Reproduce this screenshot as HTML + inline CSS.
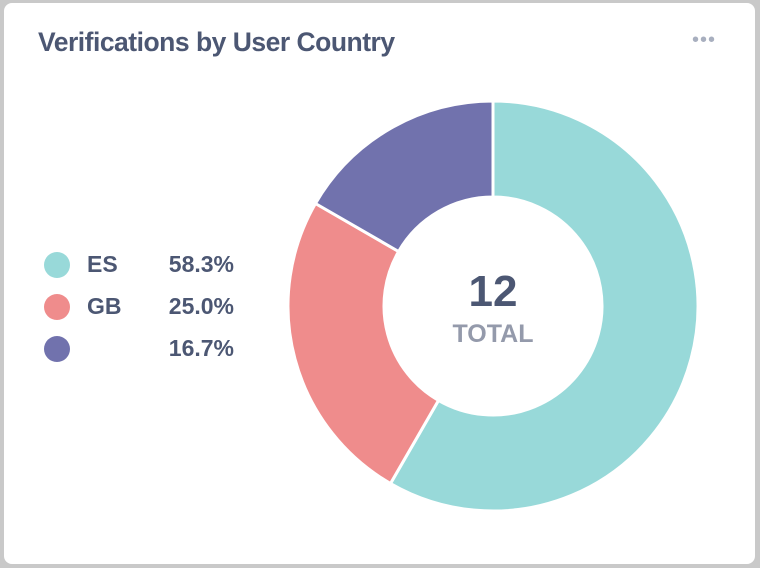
<!DOCTYPE html>
<html><head><style>
html,body{margin:0;padding:0;}
body{width:760px;height:568px;background:#c9c9c9;position:relative;overflow:hidden;font-family:"Liberation Sans",sans-serif;}
.card{position:absolute;left:4px;top:3px;width:751px;height:561px;background:#fff;border-radius:8px;}
.title{position:absolute;left:34px;top:24px;font-size:26.5px;font-weight:bold;color:#4c5773;letter-spacing:-0.5px;}
.dots{position:absolute;left:688px;top:26px;color:#a8afbf;font-size:20px;letter-spacing:1px;}
.leg{position:absolute;left:44px;height:30px;width:192px;font-size:23px;font-weight:bold;color:#4c5773;}
.leg .dot{position:absolute;left:0;top:2px;width:26px;height:26px;border-radius:50%;}
.leg .lab{position:absolute;left:43px;top:1px;}
.leg .val{position:absolute;right:2px;top:1px;}
</style></head><body>
<div class="card">
<div class="title">Verifications by User Country</div>
<div class="dots">•••</div>
</div>
<div id="legend"></div>
<svg id="chart" width="760" height="568" style="position:absolute;left:0;top:0"></svg>
<script>
const categories=["ES","GB",""];
const values=[7,3,2];
const colors=["#98d9d9","#ef8c8c","#7172ad"];
const total=values.reduce((a,b)=>a+b,0);
const ns="http://www.w3.org/2000/svg";
const svg=document.getElementById('chart');
const cx=493,cy=306,R=205,r=109;
let a0=-Math.PI/2;
function pt(rad,a){return [cx+rad*Math.cos(a),cy+rad*Math.sin(a)];}
values.forEach((v,i)=>{
  const a1=a0+v/total*2*Math.PI;
  const large=(a1-a0)>Math.PI?1:0;
  const [x1,y1]=pt(R,a0),[x2,y2]=pt(R,a1),[x3,y3]=pt(r,a1),[x4,y4]=pt(r,a0);
  const p=document.createElementNS(ns,'path');
  p.setAttribute('d',`M${x1},${y1}A${R},${R} 0 ${large} 1 ${x2},${y2}L${x3},${y3}A${r},${r} 0 ${large} 0 ${x4},${y4}Z`);
  p.setAttribute('fill',colors[i]);
  p.setAttribute('stroke','#fff');
  p.setAttribute('stroke-width','3');
  
  
  svg.appendChild(p);
  a0=a1;
});
const t1=document.createElementNS(ns,'text');
t1.setAttribute('x',cx);t1.setAttribute('y',cy+0);t1.setAttribute('text-anchor','middle');
t1.setAttribute('font-size','44');t1.setAttribute('font-weight','bold');t1.setAttribute('fill','#4c5773');
t1.setAttribute('font-family','Liberation Sans, sans-serif');
t1.textContent=String(total);


svg.appendChild(t1);
const t2=document.createElementNS(ns,'text');
t2.setAttribute('x',cx);t2.setAttribute('y',cy+36);t2.setAttribute('text-anchor','middle');
t2.setAttribute('font-size','25');t2.setAttribute('font-weight','bold');t2.setAttribute('fill','#949aab');
t2.setAttribute('font-family','Liberation Sans, sans-serif');
t2.textContent='TOTAL';


svg.appendChild(t2);
const leg=document.getElementById('legend');
values.forEach((v,i)=>{
  const d=document.createElement('div');
  d.className='leg';d.style.top=(250+i*42)+'px';
  
  
  d.innerHTML=`<div class="dot" style="background:${colors[i]}"></div><span class="lab">${categories[i]}</span><span class="val">${(v/total*100).toFixed(1)}%</span>`;
  leg.appendChild(d);
});
</script>
</body></html>
